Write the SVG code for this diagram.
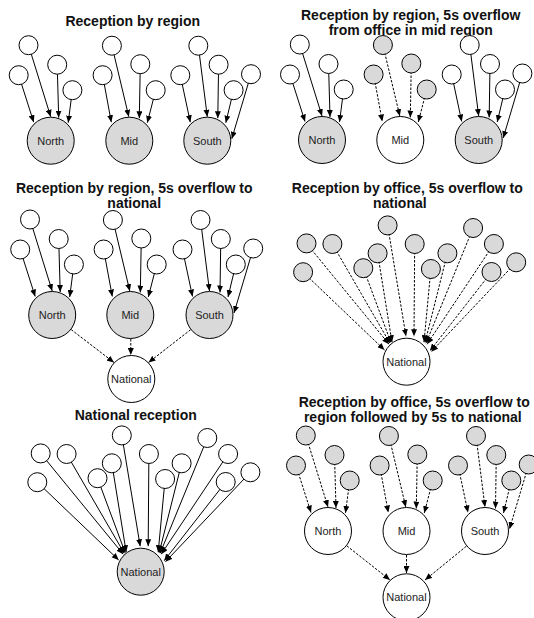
<svg xmlns="http://www.w3.org/2000/svg" width="534" height="618" viewBox="0 0 534 618">
  <style>
    .bg { fill: #ffffff; }
    .title { font-family: "Liberation Sans", Arial, sans-serif; font-size: 14px; font-weight: bold; fill: #111; text-anchor: middle; }
    .lbl { font-family: "Liberation Sans", Arial, sans-serif; font-size: 11px; fill: #222; text-anchor: middle; }
    .big { stroke: #000; stroke-width: 1; }
    .sm { stroke: #000; stroke-width: 1; }
    .on { fill: #d9d9d9; }
    .off { fill: #ffffff; }
    .edge { stroke: #000; stroke-width: 1; fill: none; marker-end: url(#arrow); }
    .dash { stroke-dasharray: 2.5 1.5; }
  </style>
  <defs>
    <marker id="arrow" viewBox="0 0 7 6" refX="7" refY="3" markerWidth="7" markerHeight="6" markerUnits="userSpaceOnUse" orient="auto">
      <path d="M0,0 L7,3 L0,6 z" fill="#000"/>
    </marker>
  </defs>
  <rect class="bg" x="0" y="0" width="534" height="618"/>

  <!-- Panel 1: reception by region -->
  <g id="panel1">
    <text class="title" x="132.7" y="26">Reception by region</text>
    <g id="p1-edges">
      <line class="edge" x1="18.7" y1="75.2" x2="33.7" y2="122.2"/>
      <line class="edge" x1="28.5" y1="45.2" x2="50.7" y2="116.7"/>
      <line class="edge" x1="57.2" y1="64.7" x2="58.7" y2="117.7"/>
      <line class="edge" x1="72.4" y1="90.2" x2="68.2" y2="122.7"/>
      <line class="edge" x1="102.6" y1="75.2" x2="111.3" y2="122.2"/>
      <line class="edge" x1="111.9" y1="45.7" x2="128.8" y2="116.7"/>
      <line class="edge" x1="140.3" y1="64.2" x2="139.3" y2="118.2"/>
      <line class="edge" x1="155.7" y1="90.2" x2="147.3" y2="122.7"/>
      <line class="edge" x1="180.3" y1="75.2" x2="190.3" y2="122.2"/>
      <line class="edge" x1="198.3" y1="45.7" x2="207.3" y2="116.7"/>
      <line class="edge" x1="218.6" y1="64.7" x2="217.8" y2="118.2"/>
      <line class="edge" x1="233.6" y1="90.2" x2="225.8" y2="122.7"/>
      <line class="edge" x1="251" y1="74.2" x2="231.8" y2="138.7"/>
    </g>
    <g id="p1-n1"><circle class="sm off" cx="18.7" cy="75.2" r="9.5"/></g>
    <g id="p1-n2"><circle class="sm off" cx="28.5" cy="45.2" r="9.5"/></g>
    <g id="p1-n3"><circle class="sm off" cx="57.2" cy="64.7" r="9.5"/></g>
    <g id="p1-n4"><circle class="sm off" cx="72.4" cy="90.2" r="9.5"/></g>
    <g id="p1-m1"><circle class="sm off" cx="102.6" cy="75.2" r="9.5"/></g>
    <g id="p1-m2"><circle class="sm off" cx="111.9" cy="45.7" r="9.5"/></g>
    <g id="p1-m3"><circle class="sm off" cx="140.3" cy="64.2" r="9.5"/></g>
    <g id="p1-m4"><circle class="sm off" cx="155.7" cy="90.2" r="9.5"/></g>
    <g id="p1-s1"><circle class="sm off" cx="180.3" cy="75.2" r="9.5"/></g>
    <g id="p1-s2"><circle class="sm off" cx="198.3" cy="45.7" r="9.5"/></g>
    <g id="p1-s3"><circle class="sm off" cx="218.6" cy="64.7" r="9.5"/></g>
    <g id="p1-s4"><circle class="sm off" cx="233.6" cy="90.2" r="9.5"/></g>
    <g id="p1-s5"><circle class="sm off" cx="251" cy="74.2" r="9.5"/></g>
    <g id="p1-north"><circle class="big on" cx="50.7" cy="140.7" r="23.5"/><text class="lbl" x="50.7" y="144.7">North</text></g>
    <g id="p1-mid"><circle class="big on" cx="129.3" cy="140.7" r="23.5"/><text class="lbl" x="129.3" y="144.7">Mid</text></g>
    <g id="p1-south"><circle class="big on" cx="207.3" cy="140.7" r="23.5"/><text class="lbl" x="207.3" y="144.7">South</text></g>
  </g>

  <!-- Panel 2: mid region offices overflow after 5s -->
  <g id="panel2">
    <text class="title" x="410.7" y="19.5">Reception by region, 5s overflow</text>
    <text class="title" x="410.7" y="34.5">from office in mid region</text>
    <g id="p2-edges">
      <line class="edge" x1="290" y1="74.5" x2="305" y2="121.5"/>
      <line class="edge" x1="299.8" y1="44.5" x2="322" y2="116"/>
      <line class="edge" x1="328.5" y1="64" x2="330" y2="117"/>
      <line class="edge" x1="343.7" y1="89.5" x2="339.5" y2="122"/>
      <line class="edge dash" x1="373.6" y1="74.5" x2="382.3" y2="121.5"/>
      <line class="edge dash" x1="382.9" y1="45" x2="399.8" y2="116"/>
      <line class="edge dash" x1="411.3" y1="63.5" x2="410.3" y2="117.5"/>
      <line class="edge dash" x1="426.7" y1="89.5" x2="418.3" y2="122"/>
      <line class="edge" x1="451.7" y1="74.5" x2="461.7" y2="121.5"/>
      <line class="edge" x1="469.7" y1="45" x2="478.7" y2="116"/>
      <line class="edge" x1="490" y1="64" x2="489.2" y2="117.5"/>
      <line class="edge" x1="505" y1="89.5" x2="497.2" y2="122"/>
      <line class="edge" x1="522.4" y1="73.5" x2="503.2" y2="138"/>
    </g>
    <g id="p2-n1"><circle class="sm off" cx="290" cy="74.5" r="9.5"/></g>
    <g id="p2-n2"><circle class="sm off" cx="299.8" cy="44.5" r="9.5"/></g>
    <g id="p2-n3"><circle class="sm off" cx="328.5" cy="64" r="9.5"/></g>
    <g id="p2-n4"><circle class="sm off" cx="343.7" cy="89.5" r="9.5"/></g>
    <g id="p2-m1"><circle class="sm on" cx="373.6" cy="74.5" r="9.5"/></g>
    <g id="p2-m2"><circle class="sm on" cx="382.9" cy="45" r="9.5"/></g>
    <g id="p2-m3"><circle class="sm on" cx="411.3" cy="63.5" r="9.5"/></g>
    <g id="p2-m4"><circle class="sm on" cx="426.7" cy="89.5" r="9.5"/></g>
    <g id="p2-s1"><circle class="sm off" cx="451.7" cy="74.5" r="9.5"/></g>
    <g id="p2-s2"><circle class="sm off" cx="469.7" cy="45" r="9.5"/></g>
    <g id="p2-s3"><circle class="sm off" cx="490" cy="64" r="9.5"/></g>
    <g id="p2-s4"><circle class="sm off" cx="505" cy="89.5" r="9.5"/></g>
    <g id="p2-s5"><circle class="sm off" cx="522.4" cy="73.5" r="9.5"/></g>
    <g id="p2-north"><circle class="big on" cx="322" cy="140" r="23.5"/><text class="lbl" x="322" y="144">North</text></g>
    <g id="p2-mid"><circle class="big off" cx="400.3" cy="140" r="23.5"/><text class="lbl" x="400.3" y="144">Mid</text></g>
    <g id="p2-south"><circle class="big on" cx="478.7" cy="140" r="23.5"/><text class="lbl" x="478.7" y="144">South</text></g>
  </g>

  <!-- Panel 3: regions overflow to national -->
  <g id="panel3">
    <text class="title" x="134.2" y="193">Reception by region, 5s overflow to</text>
    <text class="title" x="134.2" y="208">national</text>
    <g id="p3-edges">
      <line class="edge" x1="20.2" y1="249.5" x2="35.2" y2="296.5"/>
      <line class="edge" x1="30" y1="219.5" x2="52.2" y2="291"/>
      <line class="edge" x1="58.7" y1="239" x2="60.2" y2="292"/>
      <line class="edge" x1="73.9" y1="264.5" x2="69.7" y2="297"/>
      <line class="edge" x1="103.6" y1="249.5" x2="112.3" y2="296.5"/>
      <line class="edge" x1="112.9" y1="220" x2="129.8" y2="291"/>
      <line class="edge" x1="141.3" y1="238.5" x2="140.3" y2="292.5"/>
      <line class="edge" x1="156.7" y1="264.5" x2="148.3" y2="297"/>
      <line class="edge" x1="182.5" y1="249.5" x2="192.5" y2="296.5"/>
      <line class="edge" x1="200.5" y1="220" x2="209.5" y2="291"/>
      <line class="edge" x1="220.8" y1="239" x2="220" y2="292.5"/>
      <line class="edge" x1="235.8" y1="264.5" x2="228" y2="297"/>
      <line class="edge" x1="253.2" y1="248.5" x2="234" y2="313"/>
      <line class="edge dash" x1="52.2" y1="315" x2="114" y2="362.5"/>
      <line class="edge dash" x1="130.8" y1="315" x2="130.8" y2="355"/>
      <line class="edge dash" x1="209.5" y1="315" x2="148.5" y2="362.5"/>
    </g>
    <g id="p3-n1"><circle class="sm off" cx="20.2" cy="249.5" r="9.5"/></g>
    <g id="p3-n2"><circle class="sm off" cx="30" cy="219.5" r="9.5"/></g>
    <g id="p3-n3"><circle class="sm off" cx="58.7" cy="239" r="9.5"/></g>
    <g id="p3-n4"><circle class="sm off" cx="73.9" cy="264.5" r="9.5"/></g>
    <g id="p3-m1"><circle class="sm off" cx="103.6" cy="249.5" r="9.5"/></g>
    <g id="p3-m2"><circle class="sm off" cx="112.9" cy="220" r="9.5"/></g>
    <g id="p3-m3"><circle class="sm off" cx="141.3" cy="238.5" r="9.5"/></g>
    <g id="p3-m4"><circle class="sm off" cx="156.7" cy="264.5" r="9.5"/></g>
    <g id="p3-s1"><circle class="sm off" cx="182.5" cy="249.5" r="9.5"/></g>
    <g id="p3-s2"><circle class="sm off" cx="200.5" cy="220" r="9.5"/></g>
    <g id="p3-s3"><circle class="sm off" cx="220.8" cy="239" r="9.5"/></g>
    <g id="p3-s4"><circle class="sm off" cx="235.8" cy="264.5" r="9.5"/></g>
    <g id="p3-s5"><circle class="sm off" cx="253.2" cy="248.5" r="9.5"/></g>
    <g id="p3-north"><circle class="big on" cx="52.2" cy="315" r="23.5"/><text class="lbl" x="52.2" y="319">North</text></g>
    <g id="p3-mid"><circle class="big on" cx="130.3" cy="315" r="23.5"/><text class="lbl" x="130.3" y="319">Mid</text></g>
    <g id="p3-south"><circle class="big on" cx="209.5" cy="315" r="23.5"/><text class="lbl" x="209.5" y="319">South</text></g>
    <g id="p3-national"><circle class="big off" cx="131.3" cy="379" r="23.5"/><text class="lbl" x="131.3" y="383">National</text></g>
  </g>

  <!-- Panel 4: offices overflow straight to national -->
  <g id="panel4">
    <text class="title" x="407.3" y="193">Reception by office, 5s overflow to</text>
    <text class="title" x="399.8" y="208">national</text>
    <g id="p4-edges">
      <line class="edge dash" x1="303.1" y1="272.2" x2="384.5" y2="350"/>
      <line class="edge dash" x1="306.5" y1="243.4" x2="389" y2="344.2"/>
      <line class="edge dash" x1="332.4" y1="244" x2="390" y2="343.2"/>
      <line class="edge dash" x1="363.3" y1="268.2" x2="391" y2="342.7"/>
      <line class="edge dash" x1="377.6" y1="253.3" x2="392" y2="342.2"/>
      <line class="edge dash" x1="387.6" y1="225.4" x2="406" y2="336.2"/>
      <line class="edge dash" x1="414.7" y1="244" x2="414" y2="336.2"/>
      <line class="edge dash" x1="430.9" y1="269" x2="424" y2="342.2"/>
      <line class="edge dash" x1="447.4" y1="253.3" x2="425" y2="342.7"/>
      <line class="edge dash" x1="473.1" y1="228" x2="426" y2="343.2"/>
      <line class="edge dash" x1="493.9" y1="244" x2="427" y2="344.2"/>
      <line class="edge dash" x1="491.5" y1="272" x2="430" y2="350.7"/>
      <line class="edge dash" x1="516.2" y1="262.3" x2="431.3" y2="351.7"/>
    </g>
    <g id="p4-o1"><circle class="sm on" cx="303.1" cy="272.2" r="9.5"/></g>
    <g id="p4-o2"><circle class="sm on" cx="306.5" cy="243.4" r="9.5"/></g>
    <g id="p4-o3"><circle class="sm on" cx="332.4" cy="244" r="9.5"/></g>
    <g id="p4-o4"><circle class="sm on" cx="363.3" cy="268.2" r="9.5"/></g>
    <g id="p4-o5"><circle class="sm on" cx="377.6" cy="253.3" r="9.5"/></g>
    <g id="p4-o6"><circle class="sm on" cx="387.6" cy="225.4" r="9.5"/></g>
    <g id="p4-o7"><circle class="sm on" cx="414.7" cy="244" r="9.5"/></g>
    <g id="p4-o8"><circle class="sm on" cx="430.9" cy="269" r="9.5"/></g>
    <g id="p4-o9"><circle class="sm on" cx="447.4" cy="253.3" r="9.5"/></g>
    <g id="p4-o10"><circle class="sm on" cx="473.1" cy="228" r="9.5"/></g>
    <g id="p4-o11"><circle class="sm on" cx="493.9" cy="244" r="9.5"/></g>
    <g id="p4-o12"><circle class="sm on" cx="491.5" cy="272" r="9.5"/></g>
    <g id="p4-o13"><circle class="sm on" cx="516.2" cy="262.3" r="9.5"/></g>
    <g id="p4-national"><circle class="big off" cx="406.5" cy="361.7" r="23.5"/><text class="lbl" x="406.5" y="365.7">National</text></g>
  </g>

  <!-- Panel 5: single national reception -->
  <g id="panel5">
    <text class="title" x="135.7" y="420">National reception</text>
    <g id="p5-edges">
      <line class="edge" x1="37.3" y1="482.2" x2="118.7" y2="560"/>
      <line class="edge" x1="40.7" y1="453.4" x2="123.2" y2="554.2"/>
      <line class="edge" x1="66.6" y1="454" x2="124.2" y2="553.2"/>
      <line class="edge" x1="97.5" y1="478.2" x2="125.2" y2="552.7"/>
      <line class="edge" x1="111.8" y1="463.3" x2="126.2" y2="552.2"/>
      <line class="edge" x1="121.8" y1="435.4" x2="140.2" y2="546.2"/>
      <line class="edge" x1="148.9" y1="454" x2="148.2" y2="546.2"/>
      <line class="edge" x1="165.1" y1="479" x2="158.2" y2="552.2"/>
      <line class="edge" x1="181.6" y1="463.3" x2="159.2" y2="552.7"/>
      <line class="edge" x1="207.3" y1="438" x2="160.2" y2="553.2"/>
      <line class="edge" x1="228.1" y1="454" x2="161.2" y2="554.2"/>
      <line class="edge" x1="225.7" y1="482" x2="164.2" y2="560.7"/>
      <line class="edge" x1="250.4" y1="472.3" x2="165.5" y2="561.7"/>
    </g>
    <g id="p5-o1"><circle class="sm off" cx="37.3" cy="482.2" r="9.5"/></g>
    <g id="p5-o2"><circle class="sm off" cx="40.7" cy="453.4" r="9.5"/></g>
    <g id="p5-o3"><circle class="sm off" cx="66.6" cy="454" r="9.5"/></g>
    <g id="p5-o4"><circle class="sm off" cx="97.5" cy="478.2" r="9.5"/></g>
    <g id="p5-o5"><circle class="sm off" cx="111.8" cy="463.3" r="9.5"/></g>
    <g id="p5-o6"><circle class="sm off" cx="121.8" cy="435.4" r="9.5"/></g>
    <g id="p5-o7"><circle class="sm off" cx="148.9" cy="454" r="9.5"/></g>
    <g id="p5-o8"><circle class="sm off" cx="165.1" cy="479" r="9.5"/></g>
    <g id="p5-o9"><circle class="sm off" cx="181.6" cy="463.3" r="9.5"/></g>
    <g id="p5-o10"><circle class="sm off" cx="207.3" cy="438" r="9.5"/></g>
    <g id="p5-o11"><circle class="sm off" cx="228.1" cy="454" r="9.5"/></g>
    <g id="p5-o12"><circle class="sm off" cx="225.7" cy="482" r="9.5"/></g>
    <g id="p5-o13"><circle class="sm off" cx="250.4" cy="472.3" r="9.5"/></g>
    <g id="p5-national"><circle class="big on" cx="140.7" cy="571.7" r="23.5"/><text class="lbl" x="140.7" y="575.7">National</text></g>
  </g>

  <!-- Panel 6: office to region, then region to national -->
  <g id="panel6">
    <text class="title" x="414.2" y="407">Reception by office, 5s overflow to</text>
    <text class="title" x="412.8" y="422">region followed by 5s to national</text>
    <g id="p6-edges">
      <line class="edge dash" x1="296" y1="465.5" x2="311" y2="512.5"/>
      <line class="edge dash" x1="305.8" y1="435.5" x2="328" y2="507"/>
      <line class="edge dash" x1="334.5" y1="455" x2="336" y2="508"/>
      <line class="edge dash" x1="349.7" y1="480.5" x2="345.5" y2="513"/>
      <line class="edge dash" x1="379.6" y1="465.5" x2="388.3" y2="512.5"/>
      <line class="edge dash" x1="388.9" y1="436" x2="405.8" y2="507"/>
      <line class="edge dash" x1="417.3" y1="454.5" x2="416.3" y2="508.5"/>
      <line class="edge dash" x1="432.7" y1="480.5" x2="424.3" y2="513"/>
      <line class="edge dash" x1="458" y1="465.5" x2="468" y2="512.5"/>
      <line class="edge dash" x1="476" y1="436" x2="485" y2="507"/>
      <line class="edge dash" x1="496.3" y1="455" x2="495.5" y2="508.5"/>
      <line class="edge dash" x1="511.3" y1="480.5" x2="503.5" y2="513"/>
      <line class="edge dash" x1="528.7" y1="464.5" x2="509.5" y2="529"/>
      <line class="edge dash" x1="328" y1="531" x2="390" y2="580"/>
      <line class="edge dash" x1="406.5" y1="531" x2="406.5" y2="573"/>
      <line class="edge dash" x1="485" y1="531" x2="425" y2="580"/>
    </g>
    <g id="p6-n1"><circle class="sm on" cx="296" cy="465.5" r="9.5"/></g>
    <g id="p6-n2"><circle class="sm on" cx="305.8" cy="435.5" r="9.5"/></g>
    <g id="p6-n3"><circle class="sm on" cx="334.5" cy="455" r="9.5"/></g>
    <g id="p6-n4"><circle class="sm on" cx="349.7" cy="480.5" r="9.5"/></g>
    <g id="p6-m1"><circle class="sm on" cx="379.6" cy="465.5" r="9.5"/></g>
    <g id="p6-m2"><circle class="sm on" cx="388.9" cy="436" r="9.5"/></g>
    <g id="p6-m3"><circle class="sm on" cx="417.3" cy="454.5" r="9.5"/></g>
    <g id="p6-m4"><circle class="sm on" cx="432.7" cy="480.5" r="9.5"/></g>
    <g id="p6-s1"><circle class="sm on" cx="458" cy="465.5" r="9.5"/></g>
    <g id="p6-s2"><circle class="sm on" cx="476" cy="436" r="9.5"/></g>
    <g id="p6-s3"><circle class="sm on" cx="496.3" cy="455" r="9.5"/></g>
    <g id="p6-s4"><circle class="sm on" cx="511.3" cy="480.5" r="9.5"/></g>
    <g id="p6-s5"><circle class="sm on" cx="528.7" cy="464.5" r="9.5"/></g>
    <g id="p6-north"><circle class="big off" cx="328" cy="531" r="23.5"/><text class="lbl" x="328" y="535">North</text></g>
    <g id="p6-mid"><circle class="big off" cx="406.5" cy="531" r="23.5"/><text class="lbl" x="406.5" y="535">Mid</text></g>
    <g id="p6-south"><circle class="big off" cx="485" cy="531" r="23.5"/><text class="lbl" x="485" y="535">South</text></g>
    <g id="p6-national"><circle class="big off" cx="406.5" cy="597.3" r="23.5"/><text class="lbl" x="406.5" y="601.3">National</text></g>
  </g>
</svg>
